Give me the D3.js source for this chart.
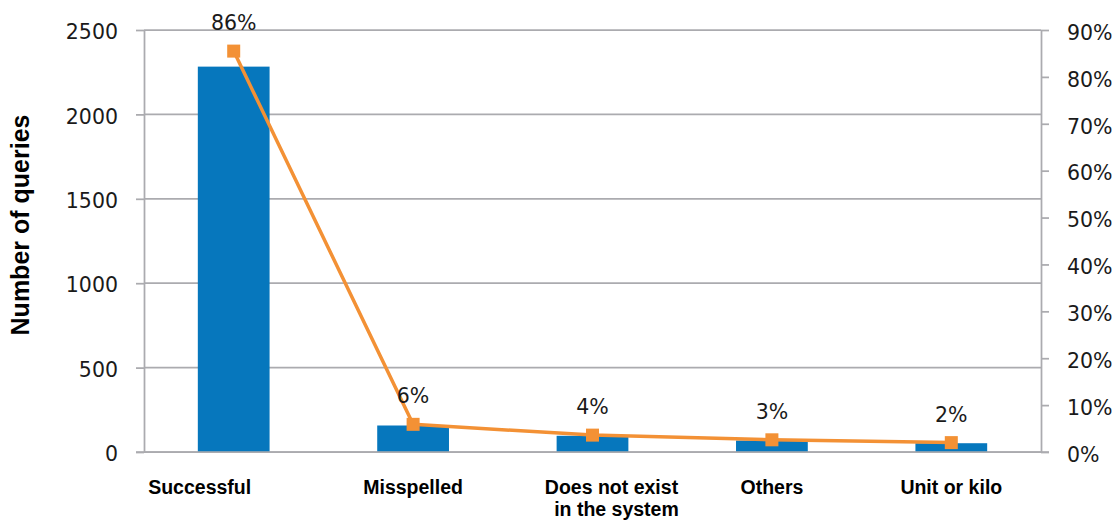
<!DOCTYPE html>
<html>
<head>
<meta charset="utf-8">
<script src="https://cdn.jsdelivr.net/npm/d3@7"></script>
<style>
  html, body { margin: 0; padding: 0; background: #ffffff; }
  svg { display: block; }
</style>
</head>
<body>
<svg id="chart" width="1115" height="525"></svg>
<script>
// Query outcome categories (label lines)
const categories = ["Successful", "Misspelled", "Does not exist\nin the system", "Others", "Unit or kilo"];
// Number of queries per outcome
const queryCounts = [2283, 157, 96, 68, 52];
// Share of all queries per outcome
const queryShares = [0.855, 0.059, 0.036, 0.026, 0.020];
// Axis ticks
const countTicks = [0, 500, 1000, 1500, 2000, 2500];
const shareTicks = [0, 0.1, 0.2, 0.3, 0.4, 0.5, 0.6, 0.7, 0.8, 0.9];

// Horizontal nudges for a few category labels
const labelShift = [-34, 0, 19, 0, 0];

const W = 1115, H = 525;
const margin = { top: 30, right: 74, bottom: 73, left: 144 };
const innerW = W - margin.left - margin.right;
const innerH = H - margin.top - margin.bottom;

const BAR = "#0677bd";
const LINE = "#f39135";
const GRID = "#ababaf";
const TICKFONT = "'DejaVu Sans', sans-serif";
const LABELFONT = "'Liberation Sans', Arial, sans-serif";

const svg = d3.select("#chart");
const g = svg.append("g").attr("transform", `translate(${margin.left},${margin.top})`);

const x = d3.scaleBand()
  .domain(categories)
  .range([0, innerW])
  .paddingInner(0.6)
  .paddingOuter(0.3);

const yCount = d3.scaleLinear().domain([0, 2500]).range([innerH, 0]);
const yShare = d3.scaleLinear().domain([0, 0.9]).range([innerH, 0]);

// Horizontal gridlines
g.append("g")
  .selectAll("line")
  .data(countTicks)
  .join("line")
  .attr("x1", 0)
  .attr("x2", innerW)
  .attr("y1", d => yCount(d))
  .attr("y2", d => yCount(d))
  .attr("stroke", GRID)
  .attr("stroke-width", 1.75);

// Left axis
const leftAxis = g.append("g")
  .call(d3.axisLeft(yCount).tickValues(countTicks).tickSize(8).tickSizeOuter(0).tickPadding(18).tickFormat(d3.format("d")));
leftAxis.selectAll("path, line").attr("stroke", GRID).attr("stroke-width", 1.75);
leftAxis.selectAll("text")
  .attr("font-family", TICKFONT)
  .attr("font-size", 20.5)
  .attr("fill", "#1a1a1a")
  .attr("dy", "0.42em");

// Right axis
const rightAxis = g.append("g")
  .attr("transform", `translate(${innerW},0)`)
  .call(d3.axisRight(yShare).tickValues(shareTicks).tickSize(8).tickSizeOuter(0).tickPadding(18).tickFormat(d3.format(".0%")));
rightAxis.selectAll("path, line").attr("stroke", GRID).attr("stroke-width", 1.75);
rightAxis.selectAll("text")
  .attr("font-family", TICKFONT)
  .attr("font-size", 20.5)
  .attr("fill", "#1a1a1a")
  .attr("dy", "0.45em");

// Bars
g.append("g")
  .selectAll("rect")
  .data(categories)
  .join("rect")
  .attr("x", d => x(d))
  .attr("width", x.bandwidth())
  .attr("y", (d, i) => yCount(queryCounts[i]))
  .attr("height", (d, i) => yCount(0) - yCount(queryCounts[i]))
  .attr("fill", BAR);

// Baseline over the bars
g.append("line")
  .attr("x1", -8).attr("x2", innerW + 8)
  .attr("y1", yCount(0)).attr("y2", yCount(0))
  .attr("stroke", GRID).attr("stroke-width", 1.75);

// Share line
const cx = d => x(d) + x.bandwidth() / 2;
const lineGen = d3.line()
  .x(d => cx(d))
  .y((d, i) => yShare(queryShares[i]));

g.append("path")
  .datum(categories)
  .attr("d", lineGen)
  .attr("fill", "none")
  .attr("stroke", LINE)
  .attr("stroke-width", 3.5)
  .attr("stroke-linejoin", "round");

const MK = 13;
g.append("g")
  .selectAll("rect")
  .data(categories)
  .join("rect")
  .attr("x", d => cx(d) - MK / 2)
  .attr("y", (d, i) => yShare(queryShares[i]) - MK / 2)
  .attr("width", MK)
  .attr("height", MK)
  .attr("fill", LINE);

// Share labels above the markers
g.append("g")
  .selectAll("text")
  .data(categories)
  .join("text")
  .attr("x", d => cx(d))
  .attr("y", (d, i) => yShare(queryShares[i]) - 21)
  .attr("text-anchor", "middle")
  .attr("font-family", TICKFONT)
  .attr("font-size", 20.5)
  .attr("fill", "#1a1a1a")
  .text((d, i) => d3.format(".0%")(queryShares[i]));

// Category labels
const catLabels = g.append("g")
  .selectAll("text")
  .data(categories)
  .join("text")
  .attr("x", (d, i) => cx(d) + labelShift[i])
  .attr("y", innerH + 42)
  .attr("text-anchor", "middle")
  .attr("font-family", LABELFONT)
  .attr("font-weight", "bold")
  .attr("font-size", 19.5)
  .attr("fill", "#000");

catLabels.each(function (d, i) {
  const lines = d.split("\n");
  d3.select(this).selectAll("tspan")
    .data(lines)
    .join("tspan")
    .attr("x", cx(d) + labelShift[i])
    .attr("dx", (l, j) => j * 5)
    .attr("dy", (l, j) => j === 0 ? 0 : 22)
    .text(l => l);
});

// Left axis title
svg.append("text")
  .attr("transform", `translate(28.5,${margin.top + 195}) rotate(-90)`)
  .attr("text-anchor", "middle")
  .attr("font-family", LABELFONT)
  .attr("font-weight", "bold")
  .attr("font-size", 25)
  .attr("fill", "#000")
  .text("Number of queries");
</script>
</body>
</html>
